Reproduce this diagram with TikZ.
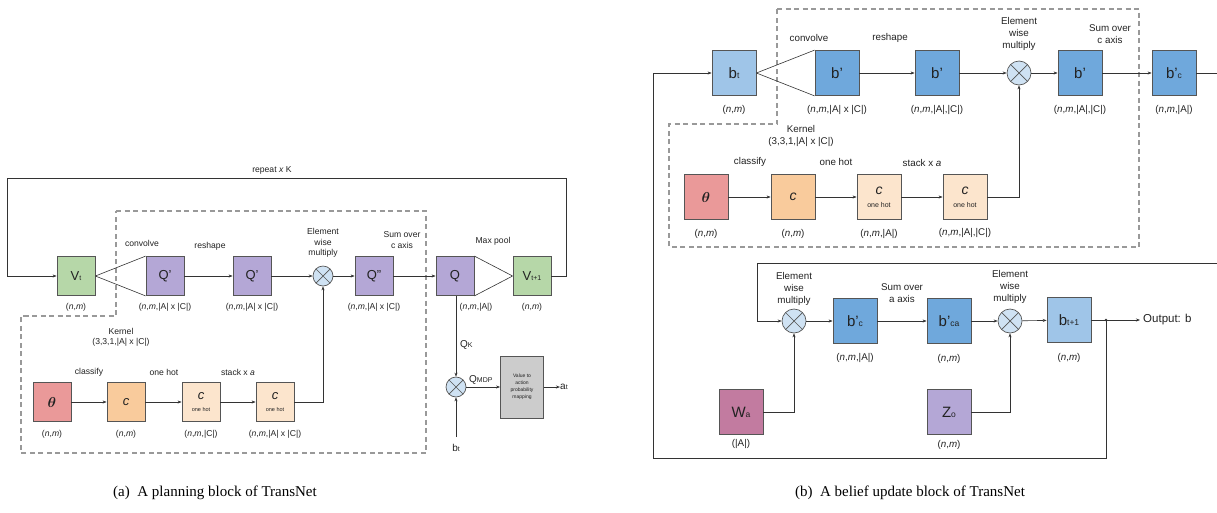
\documentclass[tikz,border=0pt]{standalone}
\usepackage{fontspec}
\usepackage{amsmath}
\setmainfont{Liberation Sans}
\newfontfamily\capfont{Liberation Serif}
\usetikzlibrary{arrows.meta}
\definecolor{bordergray}{HTML}{555555}
\definecolor{linegray}{HTML}{333333}
\definecolor{textgray}{HTML}{222222}
\definecolor{dashgray}{HTML}{999999}
\definecolor{vgreen}{HTML}{B6D7A8}
\definecolor{qpurple}{HTML}{B4A7D6}
\definecolor{thetared}{HTML}{EA9999}
\definecolor{corange}{HTML}{F9CB9C}
\definecolor{clight}{HTML}{FCE5CD}
\definecolor{multblue}{HTML}{CFE2F3}
\definecolor{mapgray}{HTML}{CCCCCC}
\definecolor{blight}{HTML}{9FC5E8}
\definecolor{bdark}{HTML}{6FA8DC}
\definecolor{wpink}{HTML}{C27BA0}
\newcommand\sbs[1]{{\fontsize{7}{7}\selectfont #1}}
\newcommand\bsbs[1]{{\fontsize{8.5}{8.5}\selectfont #1}}
\newcommand\nm{(\textit{n},\textit{m}}
\begin{document}
\begin{tikzpicture}[x=1pt,y=-1pt,
  box/.style={draw=bordergray, line width=0.8pt, minimum width=38pt, minimum height=39pt, inner sep=0pt, font=\fontsize{13}{13}\selectfont, text=textgray},
  bbox/.style={box, minimum width=44pt, minimum height=45pt, font=\fontsize{15}{15}\selectfont},
  lbl/.style={font=\fontsize{8.6}{10.4}\selectfont, text=textgray, align=center, inner sep=0pt},
  rlbl/.style={lbl, font=\fontsize{9.8}{11.6}\selectfont},
  arr/.style={-{Stealth[length=4pt,width=3pt]}, line width=0.6pt, draw=linegray},
  ln/.style={line width=0.6pt, draw=linegray},
  dsh/.style={draw=dashgray, line width=1.2pt, dash pattern=on 5pt off 3.5pt},
  mult/.style={circle, draw=bordergray, line width=0.7pt, fill=multblue, minimum size=20pt, inner sep=0pt,
    path picture={\draw[bordergray,line width=0.7pt] (path picture bounding box.north east) -- (path picture bounding box.south west) (path picture bounding box.north west) -- (path picture bounding box.south east);}},
  ctext/.style={font=\capfont\fontsize{15}{15}\selectfont, inner sep=0pt}
]
\useasboundingbox (0,0) rectangle (1217,512);

% ================= panel (a) =================
\draw[dsh] (116,211) -- (426,211) -- (426,453) -- (21,453) -- (21,316) -- (116,316) -- cycle;

\node[box,fill=vgreen] (Vt) at (76,276) {V\sbs{t}};
\node[box,fill=qpurple] (Q1) at (165,276) {Q'};
\node[box,fill=qpurple] (Q2) at (252,276) {Q'};
\node[mult] (M1) at (323,276) {};
\node[box,fill=qpurple] (Q3) at (374,276) {Q''};
\node[box,fill=qpurple] (Q) at (455,276) {Q};
\node[box,fill=vgreen] (Vt1) at (532,276) {V\sbs{t+1}};

\node[lbl] (lVt) at (76,307) {\nm)};
\node[lbl] (lQ1) at (165,307) {\nm,|A| x |C|)};
\node[lbl] (lQ2) at (252,307) {\nm,|A| x |C|)};
\node[lbl] (lQ3) at (374,307) {\nm,|A| x |C|)};
\node[lbl] (lQ) at (476,307) {\nm,|A|)};
\node[lbl] (lVt1) at (532,307) {\nm)};

\node[lbl] (tconv) at (142,243) {convolve};
\node[lbl] (tresh) at (210,246) {reshape};
\node[lbl] (tmul) at (323,243) {Element\\wise\\multiply};
\node[lbl] (tsum) at (402,240) {Sum over\\c axis};
\node[lbl] (tmax) at (493,241) {Max pool};
\node[lbl] (trep) at (272,170) {repeat \textit{x} K};

\draw[ln] (Vt.east) -- (Q1.north west) (Vt.east) -- (Q1.south west);
\draw[ln] (Q.north east) -- (Vt1.west) (Q.south east) -- (Vt1.west);
\draw[arr] (Q1) -- (Q2);
\draw[arr] (Q2) -- (M1);
\draw[arr] (M1) -- (Q3);
\draw[arr] (Q3) -- (Q);
\coordinate (rA) at (566,178);
\coordinate (lA) at (7,178);
\draw[arr] (Vt1.east) -| (rA) -- (lA) |- (Vt.west);

% kernel row
\node[lbl] (tker) at (121,337) {Kernel\\(3,3,1,|A| x |C|)};
\node[box,fill=thetared,font=\fontsize{14}{14}\selectfont] (Th) at (52,402) {$\boldsymbol{\theta}$};
\node[box,fill=corange] (C1) at (126,402) {\textit{c}};
\node[box,fill=clight,align=center] (C2) at (201,402) {\textit{c}\\[-1pt]{\fontsize{5.5}{6}\selectfont one hot}};
\node[box,fill=clight,align=center] (C3) at (275,402) {\textit{c}\\[-1pt]{\fontsize{5.5}{6}\selectfont one hot}};
\node[lbl] at (89,372) {classify};
\node[lbl] at (164,372) {one hot};
\node[lbl] at (238,372) {stack x \textit{a}};
\node[lbl] at (52,434) {\nm)};
\node[lbl] at (126,434) {\nm)};
\node[lbl] at (201,434) {\nm,|C|)};
\node[lbl] at (275,434) {\nm,|A| x |C|)};
\draw[arr] (Th) -- (C1);
\draw[arr] (C1) -- (C2);
\draw[arr] (C2) -- (C3);
\draw[arr] (C3.east) -| (M1.south);

% output part
\node[mult] (M0) at (456,387) {};
\node[box,fill=mapgray,minimum width=43pt,minimum height=62pt,align=center,font=\fontsize{5}{7}\selectfont] (Map) at (522,387) {Value to\\action\\probability\\mapping};
\coordinate (bIn) at (456,437);
\coordinate (aOut) at (560,387);
\node[lbl,font=\fontsize{10}{10}\selectfont,anchor=west] (at) at (aOut) {a\sbs{t}};
\node[lbl,font=\fontsize{10}{10}\selectfont] (bt) at (456,448) {b\sbs{t}};
\node[lbl,font=\fontsize{10}{10}\selectfont,anchor=west] at (460,345) {Q\sbs{K}};
\node[lbl,font=\fontsize{10}{10}\selectfont,anchor=west] at (469,380) {Q\sbs{MDP}};
\draw[arr] (Q.south -| M0) -- (M0.north);
\draw[arr] (bIn) -- (M0.south);
\draw[arr] (M0) -- (Map);
\draw[arr] (Map) -- (aOut);

% ================= panel (b) =================
\draw[dsh] (777,9) -- (1139,9) -- (1139,247) -- (669,247) -- (669,124) -- (777,124) -- cycle;

\node[bbox,fill=blight] (bt0) at (734,73) {b\bsbs{t}};
\node[bbox,fill=bdark] (B1) at (837,73) {b'};
\node[bbox,fill=bdark] (B2) at (937,73) {b'};
\node[mult,minimum size=24pt] (M2) at (1019,73) {};
\node[bbox,fill=bdark] (B3) at (1080,73) {b'};
\node[bbox,fill=bdark] (B4) at (1174,73) {b'\bsbs{c}};

\node[rlbl] at (734,110) {\nm)};
\node[rlbl] at (837,110) {\nm,|A| x |C|)};
\node[rlbl] at (937,110) {\nm,|A|,|C|)};
\node[rlbl] at (1080,110) {\nm,|A|,|C|)};
\node[rlbl] at (1174,110) {\nm,|A|)};

\node[rlbl] at (809,38) {convolve};
\node[rlbl] at (890,38) {reshape};
\node[rlbl] at (1019,34) {Element\\wise\\multiply};
\node[rlbl] at (1110,34) {Sum over\\c axis};

\draw[ln] (bt0.east) -- (B1.north west) (bt0.east) -- (B1.south west);
\draw[arr] (B1) -- (B2);
\draw[arr] (B2) -- (M2);
\draw[arr] (M2) -- (B3);
\draw[arr] (B3) -- (B4);

\node[rlbl] at (801,136) {Kernel\\(3,3,1,|A| x |C|)};
\node[bbox,fill=thetared] (Th2) at (706,197) {$\boldsymbol{\theta}$};
\node[bbox,fill=corange,font=\fontsize{14}{14}\selectfont] (D1) at (793,197) {\textit{c}};
\node[bbox,fill=clight,align=center,font=\fontsize{14}{14}\selectfont] (D2) at (879,197) {\textit{c}\\[-1pt]{\fontsize{7}{7.5}\selectfont one hot}};
\node[bbox,fill=clight,align=center,font=\fontsize{14}{14}\selectfont] (D3) at (965,197) {\textit{c}\\[-1pt]{\fontsize{7}{7.5}\selectfont one hot}};
\node[rlbl] at (750,162) {classify};
\node[rlbl] at (836,162) {one hot};
\node[rlbl] at (922,163) {stack x \textit{a}};
\node[rlbl] at (706,234) {\nm)};
\node[rlbl] at (793,234) {\nm)};
\node[rlbl] at (879,234) {\nm,|A|)};
\node[rlbl] at (965,233) {\nm,|A|,|C|)};
\draw[arr] (Th2) -- (D1);
\draw[arr] (D1) -- (D2);
\draw[arr] (D2) -- (D3);
\draw[arr] (D3.east) -| (M2.south);

% lower row
\node[mult,minimum size=24pt] (M3) at (794,321) {};
\node[bbox,fill=bdark] (E1) at (855,321) {b'\bsbs{c}};
\node[bbox,fill=bdark] (E2) at (949,321) {b'\bsbs{ca}};
\node[mult,minimum size=24pt] (M4) at (1010,321) {};
\node[bbox,fill=blight] (E3) at (1069,320) {b\bsbs{t+1}};
\node[bbox,fill=wpink] (Wa) at (741,412) {W\bsbs{a}};
\node[bbox,fill=qpurple] (Zo) at (949,412) {Z\bsbs{o}};

\node[rlbl] at (794,289) {Element\\wise\\multiply};
\node[rlbl] at (902,293) {Sum over\\a axis};
\node[rlbl] at (1010,287) {Element\\wise\\multiply};
\node[rlbl] at (855,358) {\nm,|A|)};
\node[rlbl] at (949,359) {\nm)};
\node[rlbl] at (1069,358) {\nm)};
\node[rlbl] at (741,444) {(|A|)};
\node[rlbl] at (949,445) {\nm)};

\draw[arr] (M3) -- (E1);
\draw[arr] (E1) -- (E2);
\draw[arr] (E2) -- (M4);
\draw[arr] (M4) -- (E3);
\draw[arr] (Wa.east) -| (M3.south);
\draw[arr] (Zo.east) -| (M4.south);

\coordinate (J) at (1106,320);
\coordinate (Out) at (1140,320);
\fill[linegray] (J) circle (1.3pt);
\draw[ln] (E3) -- (J);
\draw[arr] (J) -- (Out);
\node[rlbl,font=\fontsize{11.5}{11.5}\selectfont,anchor=west] (outl) at (1143,320) {Output: b};

\coordinate (RB) at (1106,458);
\coordinate (LB) at (653,458);
\draw[arr] (J) -- (RB) -- (LB) |- (bt0.west);

\coordinate (RE) at (1224,73);
\coordinate (RE2) at (1224,263);
\coordinate (LM) at (757,263);
\draw[arr] (B4.east) -- (RE) -- (RE2) -- (LM) |- (M3.west);

% captions
\node[ctext] (capa) at (215,493) {(a)\ \ A planning block of TransNet};
\node[ctext] (capb) at (910,493) {(b)\ \ A belief update block of TransNet};
\end{tikzpicture}
\end{document}
